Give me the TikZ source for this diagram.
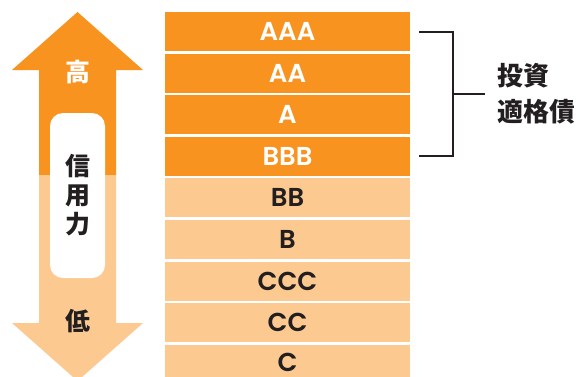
\documentclass[tikz,border=0pt]{standalone}
\usepackage{fontspec}
\usetikzlibrary{positioning,calc}
\newfontfamily\jpfont{Noto Sans CJK JP}
\newfontfamily\gradefont{Poppins SemiBold}
\definecolor{rankhi}{HTML}{F7931E}
\definecolor{ranklo}{HTML}{FCC991}
\definecolor{inkdark}{HTML}{231F20}
\newcommand{\gradewidth}{245bp}
\newcommand{\gradeheight}{39bp}
\newcommand{\gradegap}{2.2bp}
\tikzset{
    grade/.style = { rectangle, inner sep = 0pt,
        minimum width = \gradewidth,
        minimum height = \gradeheight,
        font = \gradefont\fontsize{26}{26}\selectfont
    },
    grade_hi/.style = { grade, fill = rankhi, text = white },
    grade_lo/.style = { grade, fill = ranklo, text = inkdark },
    pill/.style = { rectangle, fill = white, align = center,
        rounded corners = 13bp,
        minimum width = 55bp,
        minimum height = 165bp,
        text = inkdark,
        font = \jpfont\bfseries\fontsize{25}{29}\selectfont
    },
    side_text/.style = { inner sep = 0pt,
        font = \jpfont\bfseries\fontsize{25}{25}\selectfont
    },
    notes/.style = { inner sep = 0pt, align = left, text = inkdark,
        font = \jpfont\bfseries\fontsize{26}{36}\selectfont
    },
    bracket/.style = { draw = inkdark, line width = 2bp }
}

\begin{document}
\begin{tikzpicture}[x=1bp, y=-1bp]
        \useasboundingbox (0,0) rectangle (579,376);

        % credit arrow...
        \fill[rankhi] (77.5,12) -- (143,70) -- (116,70) -- (116,175.5) -- (39,175.5) -- (39,70) -- (12,70) -- cycle;
        \fill[ranklo] (39,175) -- (116,175) -- (116,323) -- (143,323) -- (77.5,381) -- (12,323) -- (39,323) -- cycle;
        \node[side_text, text = white] (high) at (77.5,72) {高};
        \node[pill] (credit) at (77.5,195.5) {信\\用\\力};
        \node[side_text, text = inkdark] (low) at (77.5,321) {低};

        % grades...
        \node[grade_hi] (aaa) at (287.5,31.5) {AAA};
        \node[grade_hi] (aa)  [below = \gradegap of aaa] {AA};
        \node[grade_hi] (a)   [below = \gradegap of aa]  {A};
        \node[grade_hi] (bbb) [below = \gradegap of a]   {BBB};
        \node[grade_lo] (bb)  [below = \gradegap of bbb] {BB};
        \node[grade_lo] (b)   [below = \gradegap of bb]  {B};
        \node[grade_lo] (ccc) [below = \gradegap of b]   {CCC};
        \node[grade_lo] (cc)  [below = \gradegap of ccc] {CC};
        \node[grade_lo, minimum height = 34.4bp] (c) [below = \gradegap of cc] {\raisebox{-1.5bp}{C}};

        % investment grade...
        \draw[bracket] ([xshift=9bp]aaa.east) -| ([xshift=43bp]bbb.east) -- ([xshift=9bp]bbb.east);
        \coordinate (brk) at ([xshift=43bp]$(aaa.east)!0.5!(bbb.east)$);
        \node[notes] (inv) [right = 44bp of brk] {投資\\適格債};
        \draw[bracket] (brk) -- ([xshift=-12bp]inv.west |- brk);

    \end{tikzpicture}
\end{document}
